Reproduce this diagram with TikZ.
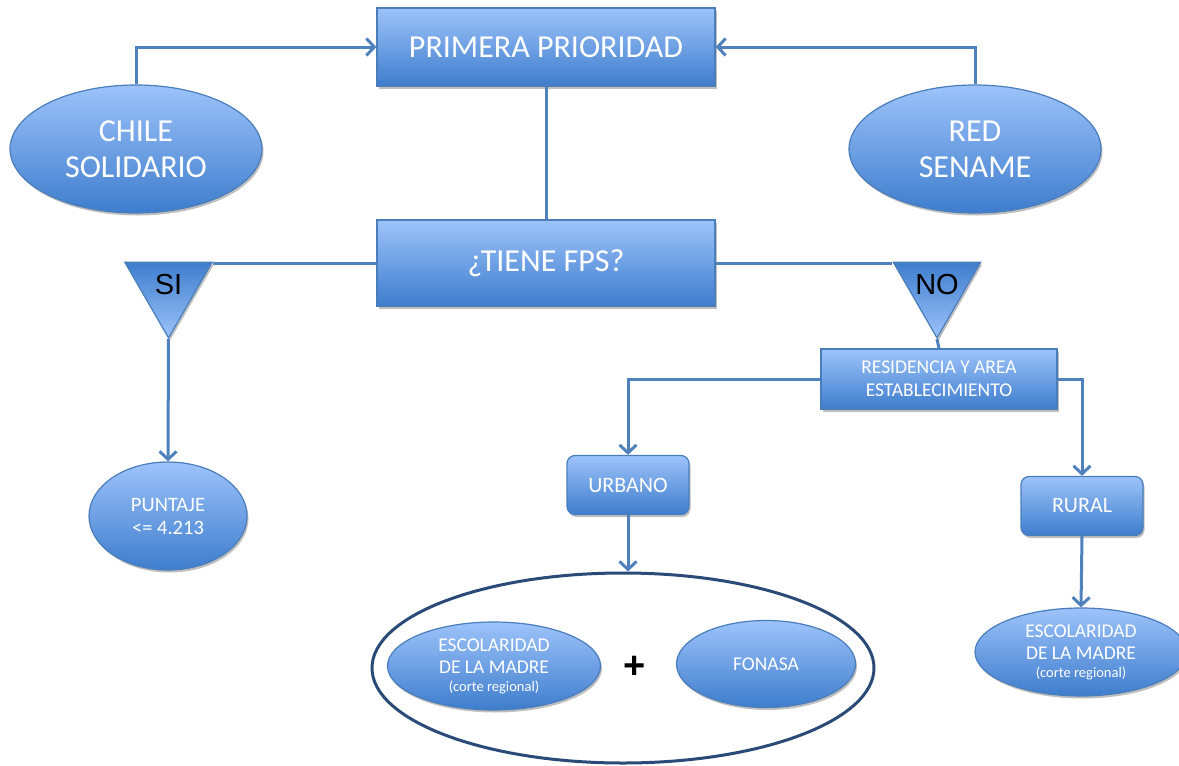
\documentclass[tikz,border=0pt]{standalone}
\usepackage{fontspec}
\setmainfont{Carlito}
\newfontfamily\arialfont{Liberation Sans}
\usepackage{tikz}
\usetikzlibrary{shapes,shapes.geometric,shadows,arrows.meta,calc,positioning}
\definecolor{boxtop}{RGB}{157,195,250}
\definecolor{boxbot}{RGB}{62,125,205}
\definecolor{boxline}{RGB}{74,126,187}
\definecolor{linecol}{RGB}{79,129,189}
\definecolor{grupocol}{RGB}{42,74,120}
\tikzset{
  softshadow/.style={drop shadow={shadow xshift=1.5pt, shadow yshift=-2.5pt, opacity=0.25, fill=black}},
  box/.style={draw=boxline, line width=1.2pt, top color=boxtop, bottom color=boxbot,
    text=white, align=center, inner sep=0pt, softshadow},
  oval/.style={box, ellipse},
  rbox/.style={box, rounded corners=8pt},
  tri/.style={regular polygon, regular polygon sides=3, shape border rotate=180,
    draw=boxline, line width=1.2pt, top color=boxbot, bottom color=boxtop,
    minimum size=101pt, inner sep=0pt, text=black, softshadow,
    font=\arialfont\fontsize{29}{30}\selectfont},
  link/.style={draw=linecol, line width=3pt},
  arrowlink/.style={link, -{Straight Barb[length=8pt, width=17pt]}},
}
\begin{document}
\begin{tikzpicture}[x=1pt, y=-1pt]
        \useasboundingbox (0,0) rectangle (1179,766);
        % Top level
        \node[box, minimum width=338, minimum height=78, font=\fontsize{32}{36}\selectfont]
          (prim) at (546,47) {PRIMERA PRIORIDAD};
        \node[oval, minimum width=252, minimum height=128, font=\fontsize{32}{36}\selectfont]
          (chile) at (136,149) {CHILE\\SOLIDARIO};
        \node[oval, minimum width=252, minimum height=128, font=\fontsize{32}{36}\selectfont]
          (sename) at (975,149) {RED\\SENAME};
        % Question and branches
        \node[box, minimum width=338, minimum height=86, font=\fontsize{32}{34}\selectfont]
          (tiene) at (546,263) {¿TIENE FPS?};
        \node[tri] (si) at (168.5,287.4) {\raisebox{6pt}{\makebox[0pt]{SI}}};
        \node[tri] (no) at (937,287.4) {\raisebox{6pt}{\makebox[0pt]{NO}}};
        \node[oval, minimum width=158, minimum height=108, font=\fontsize{20.5}{23}\selectfont]
          (punt) at (168,516) {PUNTAJE\\<= 4.213};
        \node[box, minimum width=236, minimum height=60, font=\fontsize{19.5}{23}\selectfont]
          (resid) at (939,379) {RESIDENCIA Y AREA\\ESTABLECIMIENTO};
        \node[rbox, minimum width=122, minimum height=59, font=\fontsize{22}{23}\selectfont]
          (urb) at (628,485) {URBANO};
        \node[rbox, minimum width=122, minimum height=59, font=\fontsize{22}{23}\selectfont]
          (rur) at (1082,506) {RURAL};
        % Urban group
        \node[ellipse, draw=grupocol, line width=3pt, fill=white,
          minimum width=502, minimum height=190] (grupo) at (623,668) {};
        \node[oval, minimum width=213, minimum height=88, font=\fontsize{19.5}{22}\selectfont]
          (escA) at (494,666) {ESCOLARIDAD\\DE LA MADRE\\[-4pt]{\fontsize{14.5}{16}\selectfont (corte regional)}};
        \node[font=\arialfont\bfseries\fontsize{38}{38}\selectfont] (mas) at (635,667) {+};
        \node[oval, minimum width=179, minimum height=87, font=\fontsize{19.5}{22}\selectfont]
          (fonasa) at (766,664) {FONASA};
        % Rural result
        \node[oval, minimum width=212, minimum height=88, font=\fontsize{19.5}{22}\selectfont]
          (escB) at (1081,652) {ESCOLARIDAD\\DE LA MADRE\\[-4pt]{\fontsize{14.5}{16}\selectfont (corte regional)}};
        % Connectors
        \draw[arrowlink] (chile.north) |- (prim.west);
        \draw[arrowlink] (sename.north) |- (prim.east);
        \draw[link] (prim.south) -- (tiene.north);
        \draw[link] (tiene.west) -- (tiene.west -| si.corner 2);
        \draw[link] (tiene.east) -- (tiene.east -| no.corner 3);
        \draw[arrowlink] (si.corner 1) -- (punt.north);
        \draw[link] (no.corner 1) -- (resid.north);
        \draw[arrowlink] (resid.west) -| (urb.north);
        \draw[arrowlink] (resid.east) -| (rur.north);
        \draw[arrowlink] (urb.south) -- (urb.south |- grupo.north);
        \draw[arrowlink] (rur.south) -- (escB.north);
\end{tikzpicture}
\end{document}
